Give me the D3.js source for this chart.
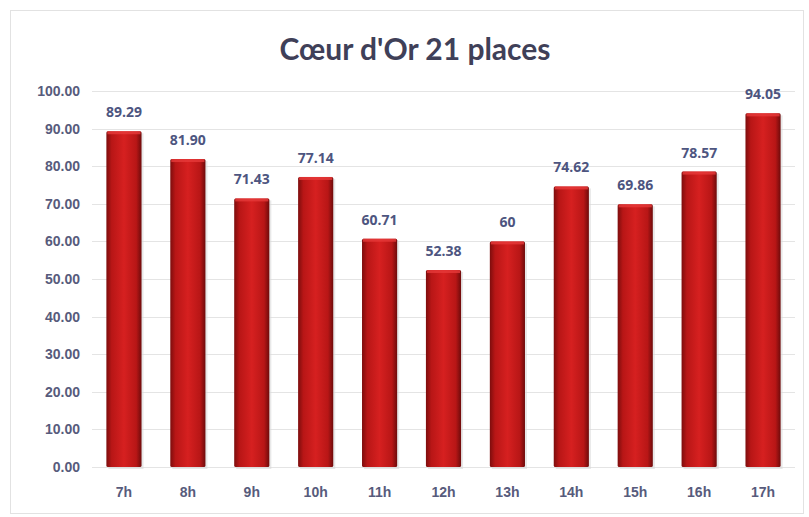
<!DOCTYPE html>
<html>
<head>
<meta charset="utf-8">
<script src="https://cdn.jsdelivr.net/npm/d3@7"></script>
<style>
  body { margin: 0; background: #fff; }
  svg { display: block; font-family: "Open Sans", Lato, sans-serif; }
</style>
</head>
<body>
<svg id="svg" width="809" height="517"></svg>
<script>
// data
const hours = ['7h','8h','9h','10h','11h','12h','13h','14h','15h','16h','17h'];
const values = [89.29, 81.90, 71.43, 77.14, 60.71, 52.38, 60, 74.62, 69.86, 78.57, 94.05];
const valueLabels = ['89.29','81.90','71.43','77.14','60.71','52.38','60','74.62','69.86','78.57','94.05'];
const yTicks = [0,10,20,30,40,50,60,70,80,90,100];

const margin = {top: 91, right: 14, bottom: 50, left: 92};
const W = 809, H = 517;
const width = W - margin.left - margin.right;
const height = H - margin.top - margin.bottom;

const svg = d3.select('#svg');

// outer frame
svg.append('rect')
  .attr('x', 10.5).attr('y', 10.5).attr('width', W - 16).attr('height', H - 14)
  .attr('fill', '#fff').attr('stroke', '#e2e2e2');

// gradient for the bars
const defs = svg.append('defs');
const grad = defs.append('linearGradient').attr('id', 'barGrad')
  .attr('x1', '0%').attr('x2', '100%').attr('y1', '0%').attr('y2', '0%');
grad.append('stop').attr('offset', '0%').attr('stop-color', '#7d0d0d');
grad.append('stop').attr('offset', '15%').attr('stop-color', '#b81616');
grad.append('stop').attr('offset', '50%').attr('stop-color', '#d62020');
grad.append('stop').attr('offset', '85%').attr('stop-color', '#b81616');
grad.append('stop').attr('offset', '100%').attr('stop-color', '#6e0b0b');

const g = svg.append('g').attr('transform', `translate(${margin.left},${margin.top})`);

const x = d3.scaleBand().domain(hours).range([0, width]).paddingInner(0.45).paddingOuter(0.225);
const y = d3.scaleLinear().domain([0, 100]).range([height, 0]);

// gridlines
g.append('g').selectAll('line').data(yTicks).join('line')
  .attr('x1', 0).attr('x2', width)
  .attr('y1', d => Math.round(y(d)) + 0.5).attr('y2', d => Math.round(y(d)) + 0.5)
  .attr('stroke', '#e4e4e4');

// y axis
const yAxis = g.append('g')
  .call(d3.axisLeft(y).tickValues(yTicks).tickFormat(d3.format('.2f')).tickSize(0).tickPadding(12));
yAxis.select('.domain').remove();
yAxis.selectAll('text')
  .attr('fill', '#575b7c').attr('font-size', 14).attr('font-weight', 'bold');

// x axis
const xAxis = g.append('g').attr('transform', `translate(0,${height})`)
  .call(d3.axisBottom(x).tickSize(0).tickPadding(20));
xAxis.select('.domain').remove();
xAxis.selectAll('text')
  .attr('fill', '#575b7c').attr('font-size', 14).attr('font-weight', 'bold');

// bars
const bars = g.append('g').selectAll('g.bar').data(hours).join('g').attr('class', 'bar');
bars.append('rect')
  .attr('x', d => x(d) + 2).attr('y', (d, i) => y(values[i]) + 2)
  .attr('width', x.bandwidth()).attr('height', (d, i) => height - y(values[i]))
  .attr('fill', '#d8d8d8').attr('opacity', 0.6);
bars.append('rect')
  .attr('x', d => x(d)).attr('y', (d, i) => y(values[i]))
  .attr('width', x.bandwidth()).attr('height', (d, i) => height - y(values[i]))
  .attr('fill', 'url(#barGrad)').attr('rx', 1.5);
bars.append('rect')
  .attr('x', d => x(d) + 1).attr('y', (d, i) => y(values[i]))
  .attr('width', x.bandwidth() - 2).attr('height', 3)
  .attr('fill', '#e63a3a').attr('opacity', 0.8);

// value labels
g.append('g').selectAll('text').data(hours).join('text')
  .attr('x', d => x(d) + x.bandwidth() / 2)
  .attr('y', (d, i) => y(values[i]) - 14)
  .attr('text-anchor', 'middle')
  .attr('fill', '#4d5580').attr('font-size', 14).attr('font-weight', 'bold')
  .text((d, i) => valueLabels[i]);

// title
svg.append('text')
  .attr('x', 415).attr('y', 60)
  .attr('text-anchor', 'middle')
  .attr('fill', '#3f4058').attr('font-size', 30).attr('font-weight', 'bold')
  .attr('font-family', 'Lato, sans-serif')
  .text("Cœur d'Or 21 places");
</script>
</body>
</html>
